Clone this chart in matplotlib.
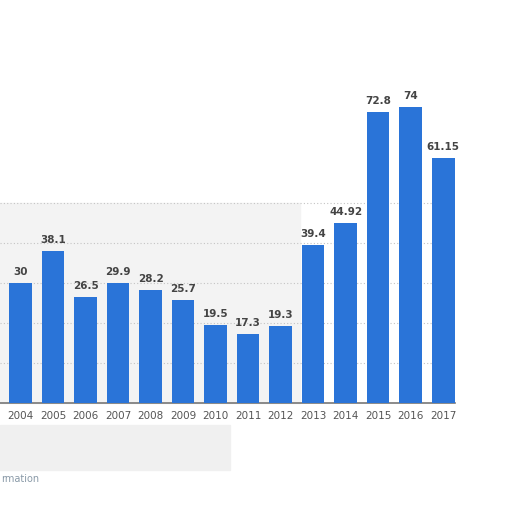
import matplotlib.pyplot as plt
from matplotlib.patches import Rectangle
import numpy as np

years = ['2004', '2005', '2006', '2007', '2008', '2009', '2010',
         '2011', '2012', '2013', '2014', '2015', '2016', '2017']
values = [30, 38.1, 26.5, 29.9, 28.2, 25.7, 19.5, 17.3, 19.3, 39.4, 44.92, 72.8, 74, 61.15]
labels = ['30', '38.1', '26.5', '29.9', '28.2', '25.7', '19.5',
          '17.3', '19.3', '39.4', '44.92', '72.8', '74', '61.15']
grid_values = [10, 20, 30, 40, 50]

fig = plt.figure(figsize=(5.12, 5.12), dpi=100)

# faint grey wash behind the left part of the chart and below the axis
fig.patches.append(Rectangle((0, 1 - 403 / 512), 300 / 512, 200 / 512,
                             transform=fig.transFigure, color='#f3f3f3', zorder=-5))
fig.patches.append(Rectangle((0, 1 - 470 / 512), 230 / 512, 45 / 512,
                             transform=fig.transFigure, color='#f0f0f0', zorder=-5))

ax = fig.add_axes([0.0, 0.213, 0.889, 0.625])
ax.set_zorder(2)
ax.patch.set_alpha(0)

x = np.arange(len(years))
ax.bar(x, values, width=0.7, color='#2a74d8', zorder=3)

for xi, v, lab in zip(x, values, labels):
    ax.text(xi, v + 1.5, lab, ha='center', va='bottom', fontsize=7.5,
            fontweight='bold', color='#444444')

ax.set_xlim(-0.63, 13.37)
ax.set_ylim(0, 80)
ax.set_yticks(grid_values)
ax.yaxis.grid(True, linestyle=(0, (1, 2)), color='#c4c4c4', linewidth=0.8, zorder=0)
ax.tick_params(axis='y', left=False, labelleft=False)
ax.set_xticks(x)
ax.set_xticklabels(years, fontsize=7.5, color='#555555')
ax.tick_params(axis='x', length=0, pad=6)

for s in ['top', 'right', 'left']:
    ax.spines[s].set_visible(False)
ax.spines['bottom'].set_color('#777777')
ax.spines['bottom'].set_linewidth(1.2)

fig.text(1 / 512, 1 - 479 / 512, 'rmation', ha='left', va='center',
         fontsize=7, color='#8a9aa8')

fig.savefig('out.png', dpi=100)
